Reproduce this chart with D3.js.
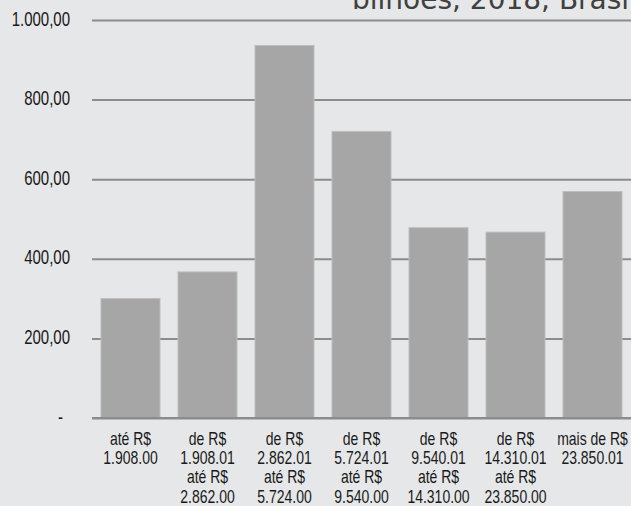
<!DOCTYPE html>
<html>
<head>
<meta charset="utf-8">
<script src="https://cdn.jsdelivr.net/npm/d3@7"></script>
<style>
  html, body { margin: 0; padding: 0; background: #e6e7e8; }
  svg { display: block; }
</style>
</head>
<body>
<div id="chart"></div>
<script>
// faixas de rendimento e massa (R$ bilhões)
var categories = [
  ["até R$", "1.908.00"],
  ["de R$", "1.908.01", "até R$", "2.862.00"],
  ["de R$", "2.862.01", "até R$", "5.724.00"],
  ["de R$", "5.724.01", "até R$", "9.540.00"],
  ["de R$", "9.540.01", "até R$", "14.310.00"],
  ["de R$", "14.310.01", "até R$", "23.850.00"],
  ["mais de R$", "23.850.01"]
];
var values = [300, 367, 936, 720, 478, 467, 569];
var yTicks = [0, 200, 400, 600, 800, 1000];
var yTickLabels = ["-", "200,00", "400,00", "600,00", "800,00", "1.000,00"];
var titleText = "bilhões, 2018, Brasil";

var svgWidth = 631;
var svgHeight = 506;

var margin = {top: 20, right: 0, bottom: 88, left: 92};
var width = svgWidth - margin.left - margin.right;
var height = svgHeight - margin.top - margin.bottom;

var stretch = 1.3; // texto um pouco esticado na vertical

var svg = d3.select("#chart")
  .append("svg")
  .attr("width", svgWidth)
  .attr("height", svgHeight);

svg.append("rect")
  .attr("width", svgWidth)
  .attr("height", svgHeight)
  .attr("fill", "#e6e7e8");

// titulo (cortado no topo)
svg.append("text")
  .attr("x", 352)
  .attr("y", 9)
  .attr("font-family", "DejaVu Sans")
  .attr("font-size", "28px")
  .attr("fill", "#404040")
  .text(titleText);

var chartGroup = svg.append("g")
  .attr("transform", `translate(${margin.left}, ${margin.top})`);

var xScale = d3.scaleBand()
  .domain(d3.range(categories.length))
  .range([0, width])
  .paddingInner(0.234)
  .paddingOuter(0.117);

var yScale = d3.scaleLinear()
  .domain([0, 1000])
  .range([height, 0]);

var leftAxis = d3.axisLeft(yScale)
  .tickValues(yTicks)
  .tickSize(-width)
  .tickPadding(22)
  .tickFormat(function(d, i) { return yTickLabels[i]; });

var yAxisGroup = chartGroup.append("g")
  .attr("id", "leftAxis")
  .call(leftAxis);

yAxisGroup.select(".domain").remove();
yAxisGroup.selectAll(".tick line")
  .attr("stroke", "#8c8c8c")
  .attr("stroke-width", 2);
yAxisGroup.selectAll(".tick text")
  .attr("font-family", "Liberation Sans, Arial, sans-serif")
  .attr("font-size", "15px")
  .attr("fill", "#1a1a1a")
  .attr("dy", "0.26em")
  .attr("transform", `scale(1, ${stretch})`)
  .attr("x", function(d) { return d === 0 ? -29 : -22; });

// barras
chartGroup.append("g")
  .selectAll("rect")
  .data(values)
  .enter()
  .append("rect")
  .attr("x", function(d, i) { return xScale(i); })
  .attr("y", function(d) { return yScale(d); })
  .attr("width", xScale.bandwidth())
  .attr("height", function(d) { return height - yScale(d); })
  .attr("fill", "#a6a6a6")
  .attr("stroke", "#bcbcbc")
  .attr("stroke-width", 1);

// linha do zero por cima das barras
chartGroup.append("line")
  .attr("x1", 0)
  .attr("x2", width)
  .attr("y1", yScale(0))
  .attr("y2", yScale(0))
  .attr("stroke", "#8c8c8c")
  .attr("stroke-width", 2);

// rotulos das categorias
var labelGroups = chartGroup.append("g")
  .selectAll("g")
  .data(categories)
  .enter()
  .append("g")
  .attr("transform", function(d, i) {
    return `translate(${xScale(i) + xScale.bandwidth() / 2}, ${height + 27}) scale(1, ${stretch})`;
  });

labelGroups.each(function(lines) {
  var g = d3.select(this);
  lines.forEach(function(line, j) {
    g.append("text")
      .attr("x", 0)
      .attr("y", j * 14.8)
      .attr("text-anchor", "middle")
      .attr("font-family", "Liberation Sans, Arial, sans-serif")
      .attr("font-size", "14px")
      .attr("fill", "#1a1a1a")
      .text(line);
  });
});
</script>
</body>
</html>
